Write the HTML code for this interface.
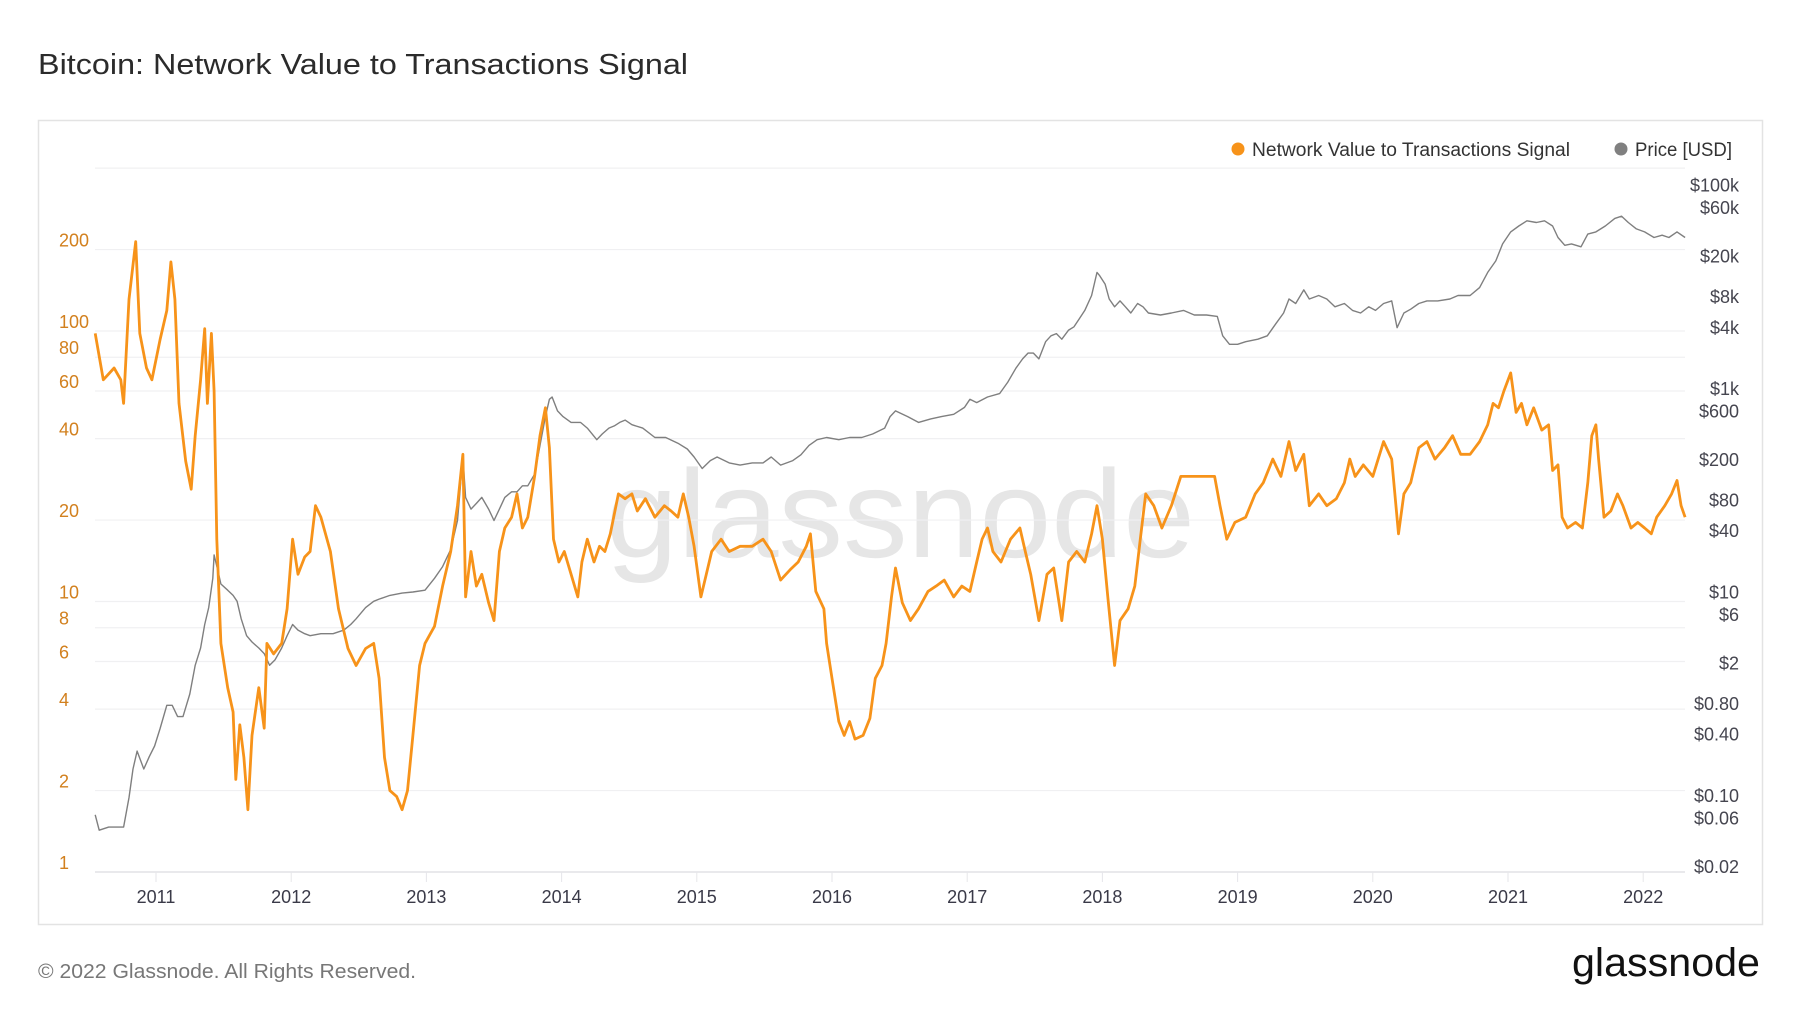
<!DOCTYPE html>
<html><head><meta charset="utf-8">
<style>
html,body{margin:0;padding:0;background:#fff;}
svg{display:block;font-family:"Liberation Sans",sans-serif;}
</style></head>
<body>
<svg id="chart" width="1800" height="1013" viewBox="0 0 1800 1013" xmlns="http://www.w3.org/2000/svg">
  <rect width="1800" height="1013" fill="#fff"/>
  <text x="38" y="74" font-size="29" fill="#2b2b2b" textLength="650" lengthAdjust="spacingAndGlyphs">Bitcoin: Network Value to Transactions Signal</text>
  <rect x="38.5" y="120.5" width="1724" height="804" fill="none" stroke="#e3e3e3" stroke-width="1.5"/>
  <text x="606" y="557" font-size="125" fill="#e6e6e6" textLength="589" lengthAdjust="spacingAndGlyphs">glassnode</text>
  <g id="grid"></g>
  <g id="leftAxis"></g>
  <g id="rightAxis"></g>
  <g id="xAxis"></g>
  <g id="series"></g>
  <g>
    <g>
      <circle cx="1238" cy="149" r="6.5" fill="#f7931a"/>
      <text x="1252" y="156" font-size="19" fill="#333" textLength="318" lengthAdjust="spacingAndGlyphs">Network Value to Transactions Signal</text>
    </g>
    <g>
      <circle cx="1621" cy="149" r="6.5" fill="#808080"/>
      <text x="1635" y="156" font-size="19" fill="#333" textLength="97" lengthAdjust="spacingAndGlyphs">Price [USD]</text>
    </g>
  </g>
  <text x="38" y="978" font-size="20" fill="#777" textLength="378" lengthAdjust="spacingAndGlyphs">© 2022 Glassnode. All Rights Reserved.</text>
  <text x="1572" y="976" font-size="40" fill="#111" textLength="188" lengthAdjust="spacingAndGlyphs">glassnode</text>
</svg>
<script>
const leftTicks = [1,2,4,6,8,10,20,40,60,80,100,200];
const gridTicks = [1,2,4,6,8,10,20,40,60,80,100,200,400];
const rightTicks = [0.02,0.06,0.10,0.40,0.80,2,6,10,40,80,200,600,1000,4000,8000,20000,60000,100000];
const rightLabels = ["$0.02","$0.06","$0.10","$0.40","$0.80","$2","$6","$10","$40","$80","$200","$600","$1k","$4k","$8k","$20k","$60k","$100k"];
const yearTicks = [2011,2012,2013,2014,2015,2016,2017,2018,2019,2020,2021,2022];

const nvtsDates = [2010.55,2010.61,2010.69,2010.74,2010.76,2010.80,2010.85,2010.88,2010.93,2010.97,2011.03,2011.08,2011.11,2011.14,2011.17,2011.22,2011.26,2011.29,2011.33,2011.36,2011.38,2011.41,2011.43,2011.45,2011.48,2011.53,2011.57,2011.59,2011.62,2011.65,2011.68,2011.71,2011.76,2011.80,2011.82,2011.87,2011.93,2011.97,2012.01,2012.05,2012.10,2012.14,2012.18,2012.22,2012.29,2012.35,2012.42,2012.48,2012.55,2012.61,2012.65,2012.69,2012.73,2012.78,2012.82,2012.86,2012.90,2012.95,2012.99,2013.06,2013.12,2013.18,2013.23,2013.27,2013.29,2013.33,2013.37,2013.41,2013.46,2013.50,2013.54,2013.58,2013.63,2013.67,2013.71,2013.75,2013.80,2013.84,2013.88,2013.91,2013.94,2013.98,2014.02,2014.07,2014.12,2014.15,2014.19,2014.24,2014.28,2014.32,2014.36,2014.42,2014.47,2014.52,2014.56,2014.62,2014.69,2014.76,2014.81,2014.86,2014.90,2014.94,2014.98,2015.03,2015.07,2015.11,2015.18,2015.24,2015.32,2015.41,2015.49,2015.55,2015.62,2015.69,2015.75,2015.81,2015.84,2015.88,2015.94,2015.96,2016.00,2016.05,2016.09,2016.13,2016.17,2016.23,2016.28,2016.32,2016.37,2016.40,2016.44,2016.47,2016.52,2016.58,2016.64,2016.71,2016.77,2016.83,2016.90,2016.96,2017.02,2017.07,2017.11,2017.15,2017.19,2017.25,2017.32,2017.39,2017.43,2017.47,2017.53,2017.59,2017.64,2017.70,2017.75,2017.81,2017.87,2017.92,2017.96,2018.00,2018.04,2018.09,2018.13,2018.19,2018.24,2018.28,2018.32,2018.38,2018.44,2018.51,2018.58,2018.64,2018.72,2018.83,2018.87,2018.92,2018.98,2019.06,2019.13,2019.19,2019.26,2019.32,2019.38,2019.43,2019.49,2019.53,2019.60,2019.66,2019.73,2019.79,2019.83,2019.87,2019.93,2020.00,2020.08,2020.14,2020.19,2020.23,2020.28,2020.34,2020.40,2020.46,2020.53,2020.59,2020.65,2020.72,2020.79,2020.85,2020.89,2020.93,2020.97,2021.02,2021.06,2021.10,2021.14,2021.19,2021.25,2021.30,2021.33,2021.37,2021.40,2021.44,2021.50,2021.55,2021.59,2021.62,2021.65,2021.67,2021.71,2021.76,2021.81,2021.85,2021.91,2021.96,2022.01,2022.06,2022.10,2022.16,2022.21,2022.25,2022.28,2022.31];
const nvtsValues = [98,66,73,66,54,131,214,98,73,66,93,119,180,131,54,33,26,41,66,102,54,98,60,17,7,4.8,3.9,2.2,3.5,2.65,1.7,3.2,4.8,3.4,7,6.4,7,9.4,17,12.6,14.6,15.3,22.6,20.5,15.3,9.4,6.7,5.8,6.7,7,5.2,2.65,2,1.9,1.7,2,3.2,5.8,7,8.1,11.4,15.3,22.6,35,10.4,15.3,11.4,12.6,9.9,8.5,15.3,18.7,20.5,25,18.7,20.5,29,41,52,37,17,14,15.3,12.6,10.4,14,17,14,16,15.3,17.8,25,24,25,21.6,24,20.5,22.6,21.6,20.5,25,20.5,16,10.4,12.6,15.3,17,15.3,16,16,17,15.3,12,13.1,14,16,17.8,10.9,9.4,7,5.2,3.6,3.2,3.6,3.1,3.2,3.7,5.2,5.8,7,10.4,13.3,9.9,8.5,9.4,10.9,11.4,12,10.4,11.4,10.9,14,17,18.7,15.3,14,17,18.7,15.3,12.6,8.5,12.6,13.3,8.5,14,15.3,14,17.8,22.6,17,10.4,5.8,8.5,9.4,11.4,17,25,22.6,18.7,22.6,29,29,29,29,22.6,17,19.6,20.5,25,27.5,33.6,29,39,30.5,35,22.6,25,22.6,24,27.5,33.6,29,32,29,39,33.6,17.8,25,27.5,37,39,33.6,37,41,35,35,39,45,54,52,60,70,50,54,45,52,43,45,30.5,32,20.5,18.7,19.6,18.7,27.5,41,45,33.6,20.5,21.6,25,22.6,18.7,19.6,18.7,17.8,20.5,22.6,25,28,22.6,20.5];

const priceDates = [2010.55,2010.58,2010.65,2010.76,2010.80,2010.83,2010.86,2010.91,2010.95,2010.99,2011.03,2011.08,2011.12,2011.16,2011.20,2011.25,2011.29,2011.33,2011.36,2011.39,2011.42,2011.43,2011.46,2011.48,2011.53,2011.57,2011.60,2011.63,2011.67,2011.71,2011.76,2011.80,2011.84,2011.88,2011.93,2011.97,2012.01,2012.05,2012.10,2012.14,2012.22,2012.31,2012.39,2012.44,2012.48,2012.55,2012.61,2012.65,2012.73,2012.82,2012.90,2012.99,2013.06,2013.12,2013.18,2013.23,2013.27,2013.29,2013.33,2013.37,2013.41,2013.46,2013.50,2013.54,2013.58,2013.63,2013.67,2013.71,2013.75,2013.80,2013.84,2013.88,2013.91,2013.93,2013.97,2014.01,2014.07,2014.14,2014.19,2014.26,2014.30,2014.35,2014.39,2014.43,2014.47,2014.52,2014.60,2014.69,2014.77,2014.86,2014.93,2014.98,2015.04,2015.10,2015.15,2015.24,2015.32,2015.41,2015.49,2015.55,2015.62,2015.71,2015.77,2015.83,2015.89,2015.96,2016.05,2016.13,2016.22,2016.30,2016.39,2016.43,2016.47,2016.56,2016.64,2016.73,2016.81,2016.90,2016.98,2017.02,2017.07,2017.15,2017.24,2017.30,2017.36,2017.41,2017.45,2017.49,2017.53,2017.58,2017.62,2017.66,2017.70,2017.75,2017.79,2017.83,2017.87,2017.92,2017.96,2017.98,2018.02,2018.05,2018.09,2018.13,2018.17,2018.21,2018.26,2018.30,2018.34,2018.43,2018.51,2018.60,2018.68,2018.77,2018.85,2018.89,2018.94,2019.00,2019.06,2019.15,2019.22,2019.28,2019.34,2019.38,2019.43,2019.49,2019.53,2019.60,2019.66,2019.72,2019.79,2019.85,2019.91,2019.97,2020.02,2020.08,2020.14,2020.18,2020.23,2020.28,2020.34,2020.40,2020.48,2020.57,2020.63,2020.72,2020.79,2020.85,2020.91,2020.96,2021.02,2021.08,2021.14,2021.21,2021.27,2021.33,2021.37,2021.42,2021.47,2021.54,2021.59,2021.65,2021.72,2021.79,2021.84,2021.89,2021.95,2022.01,2022.08,2022.14,2022.19,2022.25,2022.31];
const priceValues = [0.078,0.055,0.059,0.059,0.115,0.22,0.33,0.22,0.29,0.37,0.55,0.93,0.93,0.72,0.72,1.2,2.3,3.4,5.8,8.5,16.5,28,19,14.5,12.6,11.2,9.8,6.6,4.5,3.9,3.4,3.0,2.3,2.6,3.4,4.5,5.8,5.1,4.7,4.5,4.7,4.7,5.1,5.8,6.6,8.5,9.8,10.3,11.2,11.8,12.1,12.6,16.5,21.5,31.6,61,257,103,79,90,103,79,61,79,103,117,117,134,134,174,334,641,950,1000,730,641,563,563,494,380,433,494,520,563,593,534,494,400,400,351,308,257,198,237,257,225,214,225,225,257,214,237,270,334,380,400,380,400,400,433,494,641,730,641,563,609,641,676,790,950,880,1000,1080,1400,1920,2370,2700,2700,2370,3500,4000,4200,3700,4550,4900,5900,7100,9950,16800,15600,12900,9200,7700,8800,7700,6700,8300,7700,6700,6400,6700,7100,6400,6400,6200,4000,3300,3300,3500,3700,4000,5200,6700,9200,8300,11300,9200,9950,9200,7700,8300,7100,6700,7700,7100,8300,8800,4800,6700,7300,8300,8800,8800,9200,9950,9950,11900,16800,21800,32000,42000,48000,54000,52000,54000,48000,37000,31000,32000,30000,40000,42000,48000,57000,60000,52000,45000,42000,37000,39000,37000,42000,37000];

const NS = "http://www.w3.org/2000/svg";
function xScale(yr){ return 156 + (yr - 2011) * 135.2; }
function yLeft(v){ return 872 - 270.5 * Math.log10(v); }
function yRight(p){ return 397 - 101.7 * Math.log10(p / 1000); }
function mk(tag, parent){ const e = document.createElementNS(NS, tag); parent.appendChild(e); return e; }

const grid = document.getElementById('grid');
gridTicks.forEach(t => {
  const l = mk('line', grid);
  
  
  l.setAttribute('x1', 95); l.setAttribute('x2', 1685);
  l.setAttribute('y1', yLeft(t)); l.setAttribute('y2', yLeft(t));
  l.setAttribute('stroke', t === 1 ? '#e2e2e6' : '#f0f0f2'); l.setAttribute('stroke-width', t === 1 ? 1.5 : 1.2);
});

const la = document.getElementById('leftAxis');
leftTicks.forEach(t => {
  const tx = mk('text', la);
  
  
  tx.setAttribute('x', 59); tx.setAttribute('y', yLeft(t) - 9 + 6);
  tx.setAttribute('font-size', 18); tx.setAttribute('fill', '#d2801e');
  tx.textContent = String(t);
});

const ra = document.getElementById('rightAxis');
rightTicks.forEach((t, i) => {
  const tx = mk('text', ra);
  
  
  tx.setAttribute('x', 1739); tx.setAttribute('y', yRight(t) - 8 + 6);
  tx.setAttribute('text-anchor', 'end');
  tx.setAttribute('font-size', 18); tx.setAttribute('fill', '#45454f');
  tx.textContent = rightLabels[i];
});

const xa = document.getElementById('xAxis');
yearTicks.forEach(y => {
  const tk = mk('line', xa);
  
  
  tk.setAttribute('x1', xScale(y)); tk.setAttribute('x2', xScale(y));
  tk.setAttribute('y1', 872); tk.setAttribute('y2', 882);
  tk.setAttribute('stroke', '#e6e6ea'); tk.setAttribute('stroke-width', 1);
  const tx = mk('text', xa);
  
  
  tx.setAttribute('x', xScale(y)); tx.setAttribute('y', 903);
  tx.setAttribute('text-anchor', 'middle');
  tx.setAttribute('font-size', 18); tx.setAttribute('fill', '#3a3a48');
  tx.textContent = String(y);
});

const series = document.getElementById('series');
function pathFrom(dates, vals, yf){
  return dates.map((d, i) => (i ? 'L' : 'M') + xScale(d).toFixed(1) + ',' + yf(vals[i]).toFixed(1)).join(' ');
}
const pp = mk('path', series);


pp.setAttribute('d', pathFrom(priceDates, priceValues, yRight));
pp.setAttribute('fill', 'none'); pp.setAttribute('stroke', '#7f7f7f'); pp.setAttribute('stroke-width', 1.4);
pp.setAttribute('stroke-linejoin', 'round');
const np = mk('path', series);


np.setAttribute('d', pathFrom(nvtsDates, nvtsValues, yLeft));
np.setAttribute('fill', 'none'); np.setAttribute('stroke', '#f7931a'); np.setAttribute('stroke-width', 2.8);
np.setAttribute('stroke-linejoin', 'round');
</script>
</body></html>
